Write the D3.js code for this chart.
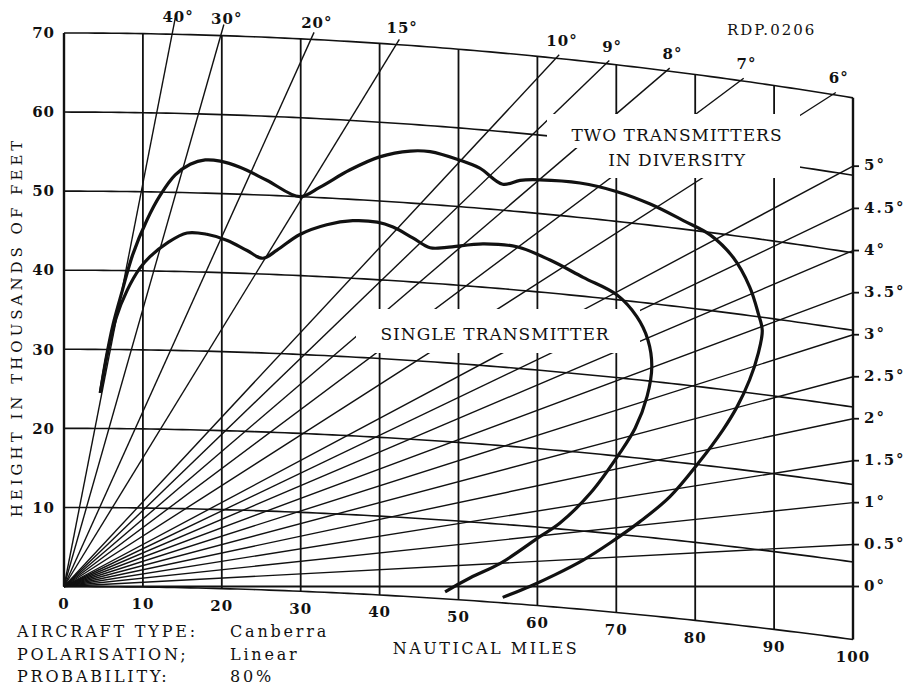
<!DOCTYPE html>
<html>
<head>
<meta charset="utf-8">
<script src="https://cdn.jsdelivr.net/npm/d3@7"></script>
<style>
  body { margin: 0; background: #fff; }
  svg { display: block; font-family: "DejaVu Serif", serif; }
</style>
</head>
<body>
<div id="container"></div>
<script>
/* DATA */
const rangeTicks = [0, 10, 20, 30, 40, 50, 60, 70, 80, 90, 100]
const heightTicks = [0, 10, 20, 30, 40, 50, 60, 70]
// how far each height line has dropped at 100 n.m. (thousands of ft)
const curvatureDrop = [6.7, 6.9, 7.1, 7.3, 7.6, 7.8, 8.0, 8.2]
const sideAngles = [0, 0.5, 1, 1.5, 2, 2.5, 3, 3.5, 4, 4.5, 5]
const topAngles = [6, 7, 8, 9, 10, 15, 20, 30, 40]

// [range n.m., height thousands of ft]
const singleTransmitter = [
  [4.6, 24.5], [5.6, 29.9], [6.6, 34.0], [8.0, 37.5], [9.6, 40.3], [10.9, 41.8],
  [13.1, 43.6], [15.6, 44.9], [18.1, 44.8], [20.7, 44.1], [23.2, 42.9], [25.2, 42.0],
  [27.0, 43.1], [29.9, 45.2], [33.3, 46.6], [36.6, 47.3], [39.7, 47.3], [41.7, 46.8],
  [44.2, 45.6], [46.4, 44.5], [48.5, 44.7], [53.1, 45.5], [57.4, 45.5], [61.6, 44.2],
  [65.8, 42.4], [70.1, 40.6], [72.6, 38.1], [74.0, 35.3], [74.5, 31.9], [73.9, 28.0],
  [72.4, 23.8], [70.5, 20.5], [66.7, 14.9], [62.9, 10.8], [60.3, 8.8], [55.3, 5.0],
  [51.5, 2.9], [48.3, 0.9]
]
const twoTransmitters = [
  [4.6, 24.5], [5.3, 28.7], [6.2, 33.1], [7.4, 37.5], [8.7, 42.0], [10.5, 46.4],
  [12.2, 49.6], [14.1, 52.2], [16.0, 53.6], [17.9, 54.2], [19.8, 54.1], [22.3, 53.4],
  [25.7, 51.9], [29.9, 50.0], [32.4, 51.3], [36.2, 53.7], [40.0, 55.6], [43.9, 56.6],
  [46.4, 56.7], [50.2, 55.9], [52.7, 55.1], [55.6, 53.3], [57.8, 54.0], [60.3, 54.3],
  [65.4, 54.4], [70.1, 53.8], [74.3, 52.7], [78.5, 51.1], [81.9, 49.7], [84.8, 47.2],
  [86.9, 43.7], [88.0, 40.4], [88.5, 38.3], [88.0, 35.3], [86.9, 31.7], [85.3, 28.0],
  [83.5, 24.8], [80.4, 20.2], [76.8, 15.5], [73.0, 11.9], [69.2, 8.8], [65.8, 6.3],
  [62.2, 4.1], [59.1, 2.4], [55.6, 0.7]
]

const notes = [
  ["AIRCRAFT TYPE:", "Canberra"],
  ["POLARISATION;", "Linear"],
  ["PROBABILITY:", "80%"]
]

/* CONSTANTS AND GLOBALS */
const width = 910,
  height = 690,
  ink = "#111"
const KFT_PER_NM = 6.076 // one nautical mile in thousands of feet

const x = d3.scaleLinear().domain([0, 100]).range([64, 853])
const y = d3.scaleLinear().domain([0, 70]).range([586.5, 33])
const dropAt = d3.scaleLinear().domain(heightTicks).range(curvatureDrop)

// height above the curved earth -> point on the flat chart
const plotY = (r, h) => h - dropAt(h) * (r / 100) ** 2
const pt = (r, h) => [x(r), y(plotY(r, h))]
const slope = a => Math.tan(a * Math.PI / 180) * KFT_PER_NM

const svg = d3.select("#container")
  .append("svg")
  .attr("width", width)
  .attr("height", height)

const line = d3.line()
const grid = svg.append("g")
  .attr("fill", "none")
  .attr("stroke", ink)

/* HEIGHT LINES (bent by earth curvature) */
grid.selectAll("path.height")
  .data(heightTicks)
  .join("path")
  .attr("class", "height")
  .attr("stroke-width", 1.6)
  .attr("d", h => line(d3.range(0, 100.5, 1).map(r => pt(r, h))))

/* RANGE LINES */
grid.selectAll("line.range")
  .data(rangeTicks)
  .join("line")
  .attr("class", "range")
  .attr("stroke-width", d => (d === 0 || d === 100) ? 2.4 : 1.8)
  .attr("x1", d => x(d))
  .attr("x2", d => x(d))
  .attr("y1", d => pt(d, 0)[1])
  .attr("y2", d => pt(d, 70)[1])

/* ELEVATION RAYS */
const topA = dropAt(70) / 10000
const rayEnd = a => {
  if (a <= 5) return 100
  const t = slope(a)
  return (-t + Math.sqrt(t * t + 4 * topA * 70)) / (2 * topA)
}

grid.selectAll("line.ray")
  .data(sideAngles.concat(topAngles))
  .join("line")
  .attr("class", "ray")
  .attr("stroke-width", d => d === 0 ? 2.2 : 1.4)
  .attr("x1", x(0))
  .attr("y1", y(0))
  .attr("x2", d => x(rayEnd(d) + (d > 5 ? 0.4 : 0)))
  .attr("y2", d => y((rayEnd(d) + (d > 5 ? 0.4 : 0)) * slope(d)))

grid.selectAll("line.tick")
  .data(sideAngles)
  .join("line")
  .attr("class", "tick")
  .attr("stroke-width", 1.8)
  .attr("x1", x(100))
  .attr("x2", x(100) + 6)
  .attr("y1", d => y(100 * slope(d)))
  .attr("y2", d => y(100 * slope(d)))

/* WHITE PATCHES BEHIND THE CURVE LABELS */
const patches = [
  [547, 114, 253, 34],
  [590, 146, 210, 32],
  [356, 309, 284, 44]
]
svg.selectAll("rect.patch")
  .data(patches)
  .join("rect")
  .attr("class", "patch")
  .attr("x", d => d[0])
  .attr("y", d => d[1])
  .attr("width", d => d[2])
  .attr("height", d => d[3])
  .attr("fill", "#fff")

/* COVERAGE CURVES */
const curveLine = d3.line()
  .x(d => pt(d[0], d[1])[0])
  .y(d => pt(d[0], d[1])[1])
  .curve(d3.curveCatmullRom.alpha(0.5))

svg.selectAll("path.coverage")
  .data([singleTransmitter, twoTransmitters])
  .join("path")
  .attr("class", "coverage")
  .attr("fill", "none")
  .attr("stroke", ink)
  .attr("stroke-width", 3.2)
  .attr("stroke-linejoin", "round")
  .attr("d", curveLine)

/* LABELS */
const labels = svg.append("g").attr("fill", ink)

labels.selectAll("text.ytick")
  .data(heightTicks.filter(d => d > 0))
  .join("text")
  .attr("class", "ytick")
  .attr("x", 55)
  .attr("y", d => y(d))
  .attr("dy", "0.35em")
  .attr("text-anchor", "end")
  .attr("font-size", 15)
  .attr("font-weight", "bold")
  .attr("letter-spacing", 1)
  .text(d => d)

labels.selectAll("text.xtick")
  .data(rangeTicks)
  .join("text")
  .attr("class", "xtick")
  .attr("x", d => x(d))
  .attr("y", d => pt(d, 0)[1] + 17)
  .attr("dy", "0.35em")
  .attr("text-anchor", "middle")
  .attr("font-size", 15)
  .attr("font-weight", "bold")
  .attr("letter-spacing", 1)
  .text(d => d)

labels.selectAll("text.side")
  .data(sideAngles)
  .join("text")
  .attr("class", "side")
  .attr("x", 864)
  .attr("y", d => y(100 * slope(d)) - 1)
  .attr("dy", "0.35em")
  .attr("font-size", 15)
  .attr("font-weight", "bold")
  .attr("letter-spacing", 2)
  .text(d => d + "°")

labels.selectAll("text.top")
  .data(topAngles)
  .join("text")
  .attr("class", "top")
  .attr("x", d => x(rayEnd(d)) + 6)
  .attr("y", d => y(rayEnd(d) * slope(d)) - 17)
  .attr("dy", "0.35em")
  .attr("text-anchor", "middle")
  .attr("font-size", 15)
  .attr("font-weight", "bold")
  .attr("letter-spacing", 1)
  .text(d => d + "°")

labels.append("text")
  .attr("transform", "translate(22,327) rotate(-90)")
  .attr("text-anchor", "middle")
  .attr("font-size", 15)
  .attr("letter-spacing", 4)
  .text("HEIGHT IN THOUSANDS OF FEET")

labels.append("text")
  .attr("x", 486)
  .attr("y", 648)
  .attr("dy", "0.35em")
  .attr("text-anchor", "middle")
  .attr("font-size", 16)
  .attr("letter-spacing", 2.5)
  .text("NAUTICAL MILES")

labels.append("text")
  .attr("x", 727)
  .attr("y", 30)
  .attr("dy", "0.35em")
  .attr("font-size", 15)
  .attr("letter-spacing", 2)
  .text("RDP.0206")

const curveNames = [
  ["TWO TRANSMITTERS", 677, 135],
  ["IN DIVERSITY", 677, 160],
  ["SINGLE TRANSMITTER", 495, 334]
]
labels.selectAll("text.name")
  .data(curveNames)
  .join("text")
  .attr("class", "name")
  .attr("x", d => d[1])
  .attr("y", d => d[2])
  .attr("dy", "0.35em")
  .attr("text-anchor", "middle")
  .attr("font-size", 17)
  .attr("letter-spacing", 1)
  .text(d => d[0])

const noteRows = labels.selectAll("g.note")
  .data(notes)
  .join("g")
  .attr("class", "note")
  .attr("transform", (d, i) => `translate(0, ${637 + i * 22.5})`)
  .attr("font-size", 16)
  .attr("letter-spacing", 2.8)

noteRows.append("text").attr("x", 17).text(d => d[0])
noteRows.append("text").attr("x", 230).text(d => d[1])
</script>
</body>
</html>
